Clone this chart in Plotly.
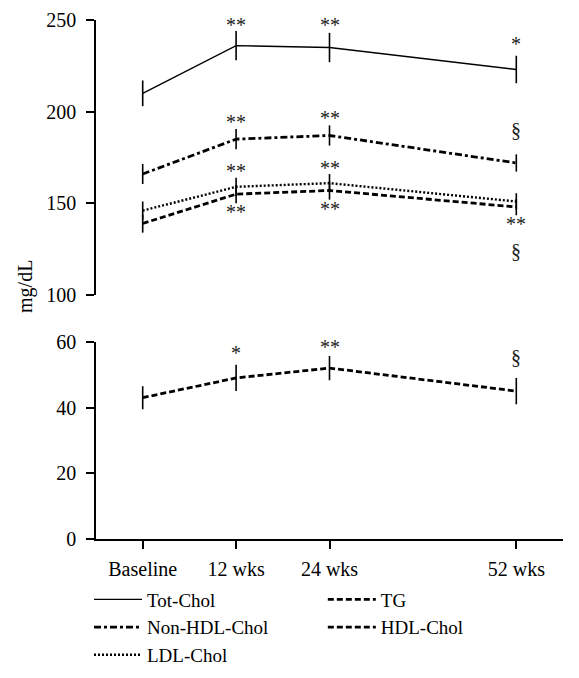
import plotly.graph_objects as go

categories = ["Baseline", "12 wks", "24 wks", "52 wks"]
x_pos = [0, 1, 2, 4]

tot_chol = [210, 236, 235, 223]
tot_chol_err = [7, 8, 8, 7.5]
non_hdl = [166, 185, 187, 172]
non_hdl_err = [5.5, 5.5, 5.5, 4.7]
ldl = [146, 159, 161, 151]
ldl_err = [5, 5, 5, 4.5]
tg = [139, 155, 157, 148]
tg_err = [5, 5, 5, 4.5]
hdl = [43, 49, 52, 45]
hdl_err = [3.5, 4, 3.7, 4]

# significance marks: (x position, y value, text, panel)
marks_x = [1, 2, 4, 1, 2, 4, 1, 2, 1, 2, 4, 4, 1, 2, 4]
marks_y = [247.5, 247.5, 237, 194.5, 196.5, 190, 167.5, 169.5, 145.5, 147, 138.5, 124, 56.5, 58.3, 55.5]
marks_t = ["**", "**", "*", "**", "**", "§", "**", "**", "**", "**", "**", "§", "*", "**", "§"]
marks_p = ["y", "y", "y", "y", "y", "y", "y", "y", "y", "y", "y", "y", "y2", "y2", "y2"]

FONT = "Liberation Serif"
fig = go.Figure()

def add(name, vals, errs, dash, width, yaxis, xaxis, legend):
    fig.add_trace(go.Scatter(
        x=x_pos, y=vals, name=name, mode="lines",
        line=dict(color="black", width=width, dash=dash),
        error_y=dict(type="data", array=errs, visible=True, color="black", thickness=1.6, width=0),
        xaxis=xaxis, yaxis=yaxis, legend=legend,
    ))

add("Tot-Chol", tot_chol, tot_chol_err, "solid", 1.4, "y", "x", "legend")
add("Non-HDL-Chol", non_hdl, non_hdl_err, "7px,3px,3px,3px", 2.8, "y", "x", "legend")
add("LDL-Chol", ldl, ldl_err, "2px,2px", 2.4, "y", "x", "legend")
add("TG", tg, tg_err, "6px,3px", 2.8, "y", "x", "legend2")
add("HDL-Chol", hdl, hdl_err, "6px,3px", 2.8, "y2", "x2", "legend2")

for xv, yv, t, p in zip(marks_x, marks_y, marks_t, marks_p):
    fig.add_annotation(x=xv, y=yv, text=t, xref="x" if p == "y" else "x2", yref=p,
                       showarrow=False, font=dict(family=FONT, size=20, color="#222"),
                       xanchor="center", yanchor="middle")

fig.add_annotation(x=-0.150, y=0.4875, xref="paper", yref="paper", text="mg/dL", textangle=-90,
                   xanchor="center", yanchor="middle",
                   showarrow=False, font=dict(family=FONT, size=20, color="black"))

axis_common = dict(showgrid=False, zeroline=False, showline=True, linecolor="black", linewidth=1.5,
                   ticks="outside", ticklen=8, tickwidth=1.5, tickcolor="black", automargin=False,
                   tickfont=dict(family=FONT, size=20, color="black"))

fig.update_layout(
    width=579, height=678,
    margin=dict(l=88, r=24, t=12, b=145),
    paper_bgcolor="white", plot_bgcolor="white",
    font=dict(family=FONT, size=20, color="black"),
    xaxis=dict(domain=[0, 1], anchor="y", range=[-0.5, 4.5], visible=False, automargin=False),
    xaxis2=dict(domain=[0, 1], anchor="y2", range=[-0.5, 4.5], tickvals=x_pos, ticktext=categories,
                ticklabelstandoff=3, **axis_common),
    yaxis=dict(domain=[0.4702, 1], anchor="x", range=[100, 250], tickvals=[100, 150, 200, 250],
               ticklabelstandoff=6, **axis_common),
    yaxis2=dict(domain=[0, 0.38], anchor="x2", range=[0, 60], tickvals=[0, 20, 40, 60],
                ticklabelstandoff=6, **axis_common),
    legend=dict(x=-0.015, y=-0.08, xanchor="left", yanchor="top", bgcolor="rgba(0,0,0,0)",
                font=dict(family=FONT, size=19), tracegroupgap=0, itemwidth=48),
    legend2=dict(x=0.4857, y=-0.08, xanchor="left", yanchor="top", bgcolor="rgba(0,0,0,0)",
                 font=dict(family=FONT, size=19), tracegroupgap=0, itemwidth=48),
    showlegend=True,
)

fig.write_html("out.html")
